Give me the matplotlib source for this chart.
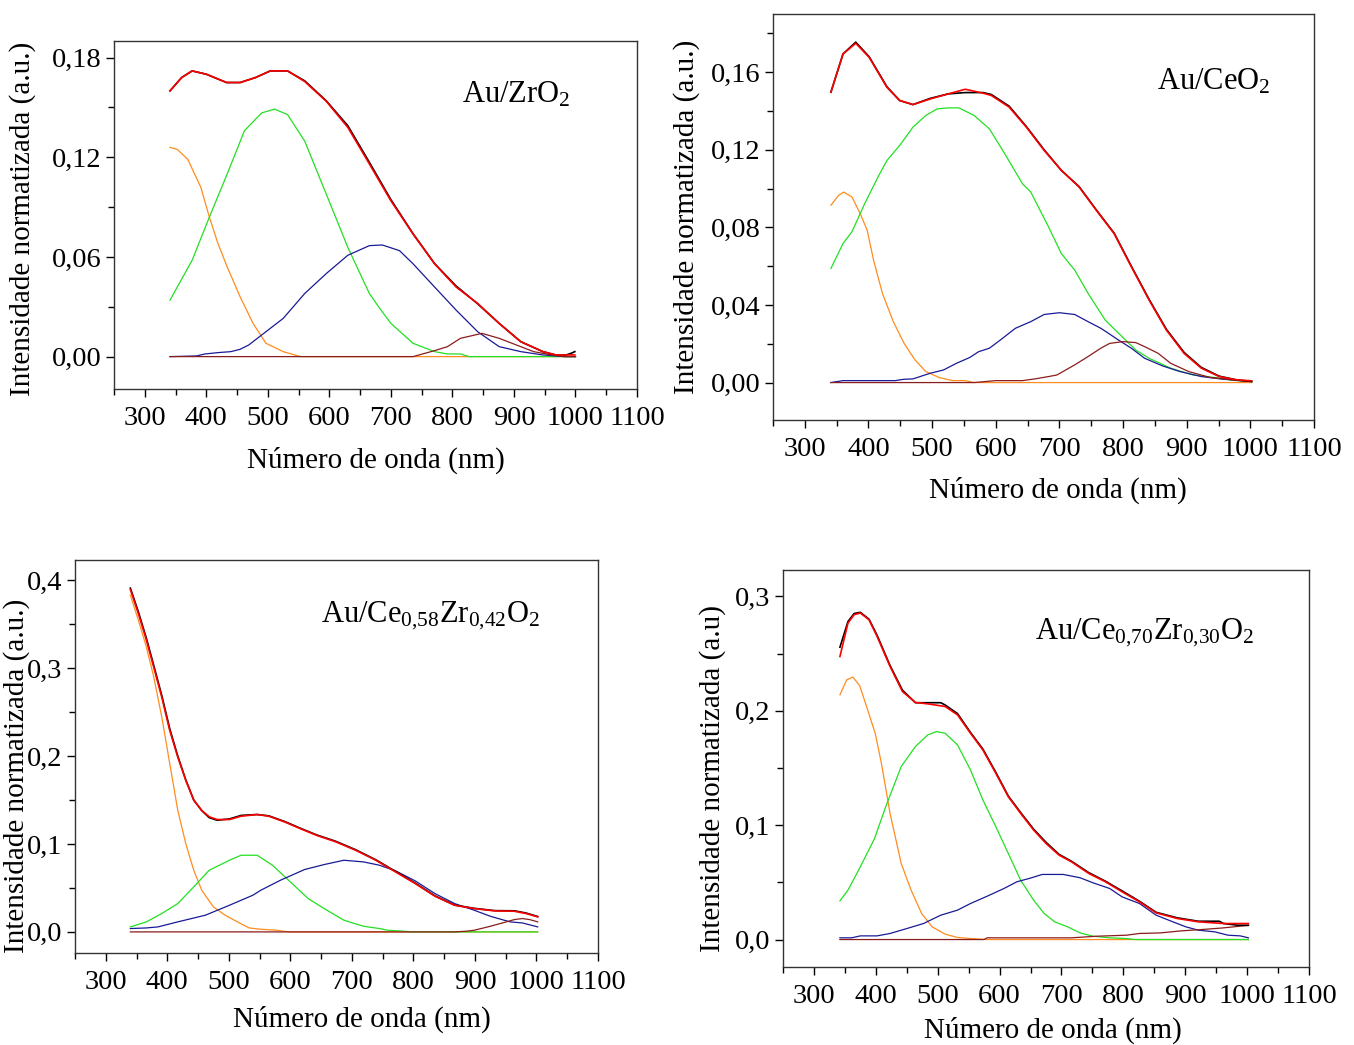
import matplotlib
matplotlib.use("Agg")
import matplotlib.pyplot as plt
from matplotlib.ticker import MultipleLocator, FuncFormatter
import numpy as np

plt.rcParams['font.family'] = ['Liberation Serif', 'DejaVu Serif']
plt.rcParams['mathtext.fontset'] = 'custom'
plt.rcParams['mathtext.rm'] = 'Liberation Serif'
plt.rcParams['mathtext.it'] = 'Liberation Serif:italic'
plt.rcParams['mathtext.bf'] = 'Liberation Serif:bold'

# ---------------- Panel 1: Au/ZrO2 ----------------
p1_tot_x = [341, 360, 377, 400, 433, 455, 480, 504, 532, 560, 595, 630, 665, 700, 736, 771, 806, 841, 876, 911, 947, 968, 985, 999]
p1_tot_y = [0.160, 0.168, 0.172, 0.170, 0.165, 0.165, 0.168, 0.172, 0.172, 0.1656, 0.1537, 0.138, 0.116, 0.0938, 0.0738, 0.0559, 0.0419, 0.032, 0.020, 0.009, 0.003, 0.001, 0.001, 0.001]
p1_exp_x = [341, 360, 377, 400, 433, 455, 480, 504, 532, 560, 595, 630, 665, 700, 736, 771, 806, 841, 876, 911, 947, 968, 985, 993, 999]
p1_exp_y = [0.160, 0.168, 0.172, 0.170, 0.165, 0.165, 0.168, 0.172, 0.172, 0.1660, 0.1540, 0.139, 0.117, 0.0945, 0.0740, 0.0560, 0.0425, 0.0318, 0.020, 0.009, 0.003, 0.001, 0.001, 0.002, 0.003]
p1_or_x = [341, 353, 370, 391, 405, 419, 434, 455, 476, 497, 525, 553, 1000]
p1_or_y = [0.126, 0.1247, 0.1187, 0.102, 0.084, 0.068, 0.054, 0.036, 0.020, 0.008, 0.003, 0.0, 0.0]
p1_gr_x = [341, 377, 405, 434, 462, 490, 511, 532, 560, 595, 630, 665, 680, 700, 736, 771, 792, 813, 827, 1000]
p1_gr_y = [0.034, 0.058, 0.084, 0.110, 0.136, 0.1467, 0.149, 0.1457, 0.1297, 0.0978, 0.0658, 0.038, 0.030, 0.020, 0.008, 0.003, 0.0016, 0.0016, 0.0, 0.0]
p1_bl_x = [341, 384, 398, 419, 440, 455, 469, 490, 525, 560, 595, 630, 665, 686, 714, 736, 771, 806, 841, 876, 911, 947, 982, 1000]
p1_bl_y = [0.0, 0.0004, 0.0016, 0.0024, 0.003, 0.0044, 0.007, 0.013, 0.023, 0.038, 0.050, 0.061, 0.0668, 0.0672, 0.0638, 0.0559, 0.0419, 0.028, 0.015, 0.006, 0.003, 0.001, 0.0, 0.0]
p1_dr_x = [341, 736, 771, 792, 813, 848, 876, 911, 932, 961, 982, 1000]
p1_dr_y = [0.0, 0.0, 0.0036, 0.006, 0.011, 0.014, 0.011, 0.006, 0.003, 0.001, 0.0, 0.0]

# ---------------- Panel 2: Au/CeO2 ----------------
p2_tot_x = [341, 360, 380, 401, 429, 449, 470, 497, 525, 552, 580, 593, 621, 648, 676, 703, 731, 758, 786, 813, 841, 868, 896, 923, 951, 978, 1002]
p2_tot_y = [0.1497, 0.1694, 0.1749, 0.1677, 0.1522, 0.1454, 0.1433, 0.1462, 0.1488, 0.1512, 0.1492, 0.148, 0.142, 0.1317, 0.1197, 0.1094, 0.1008, 0.0888, 0.0768, 0.0597, 0.0425, 0.0271, 0.015, 0.0074, 0.0031, 0.0014, 0.0009]
p2_exp_x = [341, 360, 380, 401, 429, 449, 470, 497, 525, 552, 580, 593, 621, 648, 676, 703, 731, 758, 786, 813, 841, 868, 896, 923, 951, 978, 1002]
p2_exp_y = [0.1497, 0.1694, 0.1755, 0.1680, 0.1525, 0.1454, 0.1433, 0.1465, 0.1488, 0.1495, 0.1495, 0.1485, 0.1425, 0.1320, 0.1200, 0.1094, 0.1010, 0.0890, 0.0770, 0.0600, 0.0428, 0.0275, 0.0155, 0.0078, 0.0033, 0.0014, 0.0006]
p2_or_x = [341, 353, 361, 374, 387, 398, 408, 422, 439, 456, 473, 490, 511, 532, 552, 566, 1002]
p2_or_y = [0.0914, 0.0965, 0.0982, 0.0957, 0.0871, 0.0785, 0.0631, 0.0459, 0.0314, 0.0202, 0.0117, 0.0057, 0.0026, 0.001, 0.001, 0.0, 0.0]
p2_gr_x = [341, 360, 374, 394, 415, 429, 449, 470, 490, 508, 525, 542, 566, 590, 614, 642, 655, 683, 703, 724, 745, 772, 793, 820, 841, 875, 910, 944, 978, 1002]
p2_gr_y = [0.0588, 0.0717, 0.0777, 0.0922, 0.106, 0.1145, 0.1222, 0.1317, 0.1377, 0.1411, 0.1416, 0.1416, 0.1377, 0.1308, 0.118, 0.1025, 0.0982, 0.0802, 0.0665, 0.058, 0.046, 0.0322, 0.0254, 0.0168, 0.0125, 0.0074, 0.0039, 0.0026, 0.001, 0.0005]
p2_bl_x = [341, 360, 387, 442, 456, 470, 497, 518, 538, 559, 573, 590, 607, 631, 655, 676, 700, 724, 745, 765, 793, 813, 834, 862, 889, 923, 958, 1002]
p2_bl_y = [0.0, 0.001, 0.001, 0.001, 0.0017, 0.0019, 0.0048, 0.0065, 0.0099, 0.0129, 0.0159, 0.0177, 0.0219, 0.028, 0.0314, 0.0351, 0.036, 0.0351, 0.0314, 0.028, 0.0219, 0.0177, 0.0125, 0.0086, 0.0057, 0.0031, 0.0017, 0.0005]
p2_dr_x = [341, 566, 600, 642, 662, 683, 696, 724, 745, 765, 779, 800, 820, 834, 855, 875, 903, 937, 972, 1002]
p2_dr_y = [0.0, 0.0, 0.001, 0.001, 0.0019, 0.0031, 0.0039, 0.0091, 0.0134, 0.0177, 0.0202, 0.0211, 0.0206, 0.0185, 0.0151, 0.0099, 0.0057, 0.0026, 0.0014, 0.0005]

# ---------------- Panel 3: Au/Ce0,58Zr0,42O2 ----------------
p3_tot_x = [340, 353, 366, 378, 391, 404, 417, 430, 443, 456, 468, 481, 501, 520, 546, 565, 591, 616, 642, 674, 706, 739, 771, 803, 835, 867, 899, 932, 964, 983, 1002]
p3_tot_y = [0.3894, 0.362, 0.332, 0.301, 0.267, 0.229, 0.199, 0.1725, 0.1498, 0.138, 0.131, 0.1278, 0.1278, 0.1316, 0.1335, 0.1316, 0.125, 0.1175, 0.110, 0.1024, 0.0929, 0.0815, 0.0682, 0.055, 0.0406, 0.0303, 0.0265, 0.0239, 0.0235, 0.0209, 0.0171]
p3_exp_x = [340, 353, 366, 378, 391, 404, 417, 430, 443, 456, 468, 481, 501, 520, 546, 565, 591, 616, 642, 674, 706, 739, 771, 803, 835, 867, 899, 932, 964, 983, 1002]
p3_exp_y = [0.3910, 0.364, 0.334, 0.303, 0.269, 0.231, 0.200, 0.1730, 0.1500, 0.138, 0.130, 0.1270, 0.1285, 0.1325, 0.1335, 0.1320, 0.1255, 0.1180, 0.1105, 0.1030, 0.0935, 0.0820, 0.0688, 0.0555, 0.0410, 0.0305, 0.0268, 0.0242, 0.0240, 0.0215, 0.0175]
p3_or_x = [340, 353, 366, 378, 391, 404, 417, 430, 443, 456, 475, 494, 514, 533, 552, 578, 597, 1002]
p3_or_y = [0.383, 0.3545, 0.324, 0.290, 0.2445, 0.1915, 0.1384, 0.1005, 0.0701, 0.0474, 0.0284, 0.019, 0.0114, 0.0045, 0.003, 0.0019, 0.0, 0.0]
p3_gr_x = [340, 366, 391, 417, 443, 468, 501, 520, 546, 571, 597, 629, 655, 687, 719, 745, 758, 784, 796, 1002]
p3_gr_y = [0.0057, 0.0114, 0.0209, 0.0322, 0.0512, 0.0701, 0.0815, 0.0872, 0.0872, 0.0758, 0.0588, 0.0379, 0.0265, 0.0133, 0.0064, 0.0038, 0.0019, 0.0008, 0.0, 0.0]
p3_bl_x = [340, 366, 385, 417, 462, 501, 539, 552, 584, 623, 655, 687, 719, 745, 771, 803, 835, 867, 899, 925, 957, 977, 1002]
p3_bl_y = [0.0038, 0.0045, 0.0057, 0.0114, 0.019, 0.0303, 0.0417, 0.0474, 0.0588, 0.0709, 0.0766, 0.0815, 0.0796, 0.0758, 0.0694, 0.058, 0.0436, 0.0322, 0.0246, 0.0178, 0.0114, 0.0102, 0.0057]
p3_dr_x = [340, 867, 886, 899, 925, 951, 964, 977, 989, 1002]
p3_dr_y = [0.0, 0.0, 0.0008, 0.0019, 0.0064, 0.0114, 0.014, 0.0152, 0.014, 0.0114]

# ---------------- Panel 4: Au/Ce0,70Zr0,30O2 ----------------
p4_tot_x = [342, 355, 365, 375, 389, 402, 423, 443, 464, 484, 512, 532, 553, 573, 594, 614, 634, 655, 675, 696, 716, 744, 771, 798, 826, 853, 887, 921, 962, 1002]
p4_tot_y = [0.2474, 0.2766, 0.284, 0.2854, 0.2795, 0.265, 0.2387, 0.2168, 0.2072, 0.206, 0.2037, 0.1964, 0.1803, 0.1657, 0.1453, 0.1249, 0.1103, 0.0957, 0.084, 0.0738, 0.068, 0.0578, 0.0505, 0.0417, 0.033, 0.0233, 0.0184, 0.0155, 0.014, 0.014]
p4_exp_x = [342, 355, 365, 375, 389, 402, 423, 443, 464, 484, 505, 512, 532, 553, 573, 594, 614, 634, 655, 675, 696, 716, 744, 771, 798, 826, 853, 887, 921, 955, 962, 985, 1002]
p4_exp_y = [0.2555, 0.2780, 0.2850, 0.2860, 0.2800, 0.2660, 0.2395, 0.2180, 0.2070, 0.2070, 0.2070, 0.2050, 0.1975, 0.1810, 0.1665, 0.1460, 0.1255, 0.1110, 0.0965, 0.0850, 0.0745, 0.0685, 0.0585, 0.0510, 0.0425, 0.0335, 0.0238, 0.0190, 0.0160, 0.0160, 0.0140, 0.0125, 0.0125]
p4_or_x = [342, 353, 363, 374, 385, 399, 409, 423, 441, 457, 474, 491, 512, 532, 553, 580, 1002]
p4_or_y = [0.2139, 0.227, 0.2294, 0.2218, 0.2037, 0.1803, 0.1541, 0.1103, 0.0665, 0.0432, 0.0228, 0.0111, 0.0047, 0.0018, 0.0009, 0.0, 0.0]
p4_gr_x = [342, 355, 375, 398, 416, 441, 464, 484, 498, 512, 532, 553, 573, 594, 614, 634, 655, 672, 689, 710, 730, 751, 778, 805, 819, 1002]
p4_gr_y = [0.0338, 0.0432, 0.0636, 0.0884, 0.1161, 0.1512, 0.1687, 0.1789, 0.1818, 0.1803, 0.1701, 0.1482, 0.122, 0.0986, 0.0753, 0.0519, 0.0344, 0.0228, 0.0155, 0.0111, 0.0058, 0.0029, 0.0015, 0.0009, 0.0, 0.0]
p4_bl_x = [342, 361, 375, 402, 423, 450, 477, 505, 532, 553, 580, 607, 628, 648, 669, 703, 730, 751, 778, 798, 826, 853, 880, 901, 921, 948, 969, 989, 1002]
p4_bl_y = [0.0015, 0.0015, 0.0032, 0.0032, 0.0053, 0.0096, 0.014, 0.0213, 0.0257, 0.0315, 0.0379, 0.0446, 0.0505, 0.0534, 0.0569, 0.0569, 0.054, 0.0496, 0.0446, 0.0373, 0.0315, 0.0213, 0.0155, 0.0111, 0.0082, 0.0067, 0.0038, 0.0032, 0.0015]
p4_dr_x = [342, 575, 580, 716, 757, 805, 826, 860, 894, 928, 962, 989, 1002]
p4_dr_y = [0.0, 0.0, 0.0015, 0.0015, 0.0029, 0.0038, 0.0053, 0.0058, 0.0076, 0.0088, 0.0102, 0.0117, 0.0123]

titles = [r'Au/ZrO$_2$', r'Au/CeO$_2$',
          r'Au/Ce$_{0{,}58}$Zr$_{0{,}42}$O$_2$',
          r'Au/Ce$_{0{,}70}$Zr$_{0{,}30}$O$_2$']
ylabels = ['Intensidade normatizada (a.u.)', 'Intensidade normatizada (a.u.)',
           'Intensidade normatizada (a.u.)', 'Intensidade normatizada (a.u)']
xlabel = 'Número de onda (nm)'
xticks = [300, 400, 500, 600, 700, 800, 900, 1000, 1100]

panels = [
    dict(data=[(p1_or_x, p1_or_y), (p1_gr_x, p1_gr_y), (p1_bl_x, p1_bl_y), (p1_dr_x, p1_dr_y)],
         exp=(p1_exp_x, p1_exp_y), tot=(p1_tot_x, p1_tot_y),
         pos=[114, 41, 637, 389], ylim=(-0.0195, 0.19), major=0.06, minor=0.03, dec=2,
         title_xy=(0.665, 0.845), ylab=(-0.150, 0.49), xlab=(0.5, -0.165)),
    dict(data=[(p2_or_x, p2_or_y), (p2_gr_x, p2_gr_y), (p2_bl_x, p2_bl_y), (p2_dr_x, p2_dr_y)],
         exp=(p2_exp_x, p2_exp_y), tot=(p2_tot_x, p2_tot_y),
         pos=[773, 14, 1314, 420], ylim=(-0.0193, 0.19), major=0.04, minor=0.02, dec=2,
         title_xy=(0.71, 0.833), ylab=(-0.135, 0.5), xlab=(0.527, -0.14)),
    dict(data=[(p3_or_x, p3_or_y), (p3_gr_x, p3_gr_y), (p3_bl_x, p3_bl_y), (p3_dr_x, p3_dr_y)],
         exp=(p3_exp_x, p3_exp_y), tot=(p3_tot_x, p3_tot_y),
         pos=[75, 560, 598, 953], ylim=(-0.024, 0.423), major=0.1, minor=0.05, dec=1,
         title_xy=(0.47, 0.857), ylab=(-0.086, 0.45), xlab=(0.549, -0.135)),
    dict(data=[(p4_or_x, p4_or_y), (p4_gr_x, p4_gr_y), (p4_bl_x, p4_bl_y), (p4_dr_x, p4_dr_y)],
         exp=(p4_exp_x, p4_exp_y), tot=(p4_tot_x, p4_tot_y),
         pos=[783, 570, 1309, 967], ylim=(-0.024, 0.323), major=0.1, minor=0.05, dec=1,
         title_xy=(0.479, 0.841), ylab=(-0.108, 0.476), xlab=(0.513, -0.126)),
]

comp_colors = ['#ff8c1e', '#22e022', '#1a1a96', '#8b1c1c']

W, H = 1354, 1045
fig = plt.figure(figsize=(W / 100, H / 100), dpi=100)
FS_TICK = 20.5
FS_LAB = 21
FS_TITLE = 22

for i, p in enumerate(panels):
    l, t, r, b = p['pos']
    ax = fig.add_axes([l / W, 1 - b / H, (r - l) / W, (b - t) / H])
    for (x, y), c in zip(p['data'], comp_colors):
        ax.plot(x, y, color=c, lw=0.9)
    ax.plot(*p['exp'], color='black', lw=1.2)
    ax.plot(*p['tot'], color='#ff0000', lw=1.2)
    ax.set_xlim(250, 1100)
    ax.set_ylim(*p['ylim'])
    ax.set_xticks(xticks)
    ax.xaxis.set_minor_locator(MultipleLocator(50))
    ax.yaxis.set_major_locator(MultipleLocator(p['major']))
    ax.yaxis.set_minor_locator(MultipleLocator(p['minor']))
    dec = p['dec']
    ax.yaxis.set_major_formatter(FuncFormatter(lambda v, pos, d=dec: (f'{v:.{d}f}').replace('.', ',').replace('-', '')))
    ax.tick_params(axis='both', which='major', direction='out', length=6, width=1, labelsize=FS_TICK)
    ax.tick_params(axis='x', which='major', pad=6)
    ax.tick_params(axis='y', which='major', pad=3)
    ax.tick_params(axis='both', which='minor', direction='out', length=4, width=1)
    ax.tick_params(top=False, right=False, which='both')
    for s in ax.spines.values():
        s.set_linewidth(1.0)
        s.set_color('#333333')
    ax.set_xlabel(xlabel, fontsize=FS_LAB)
    ax.set_ylabel(ylabels[i], fontsize=FS_LAB)
    ax.yaxis.set_label_coords(*p['ylab'])
    ax.xaxis.set_label_coords(*p['xlab'])
    ax.text(p['title_xy'][0], p['title_xy'][1], titles[i], transform=ax.transAxes,
            fontsize=FS_TITLE, ha='left', va='center')

fig.savefig('out.png', dpi=100)
